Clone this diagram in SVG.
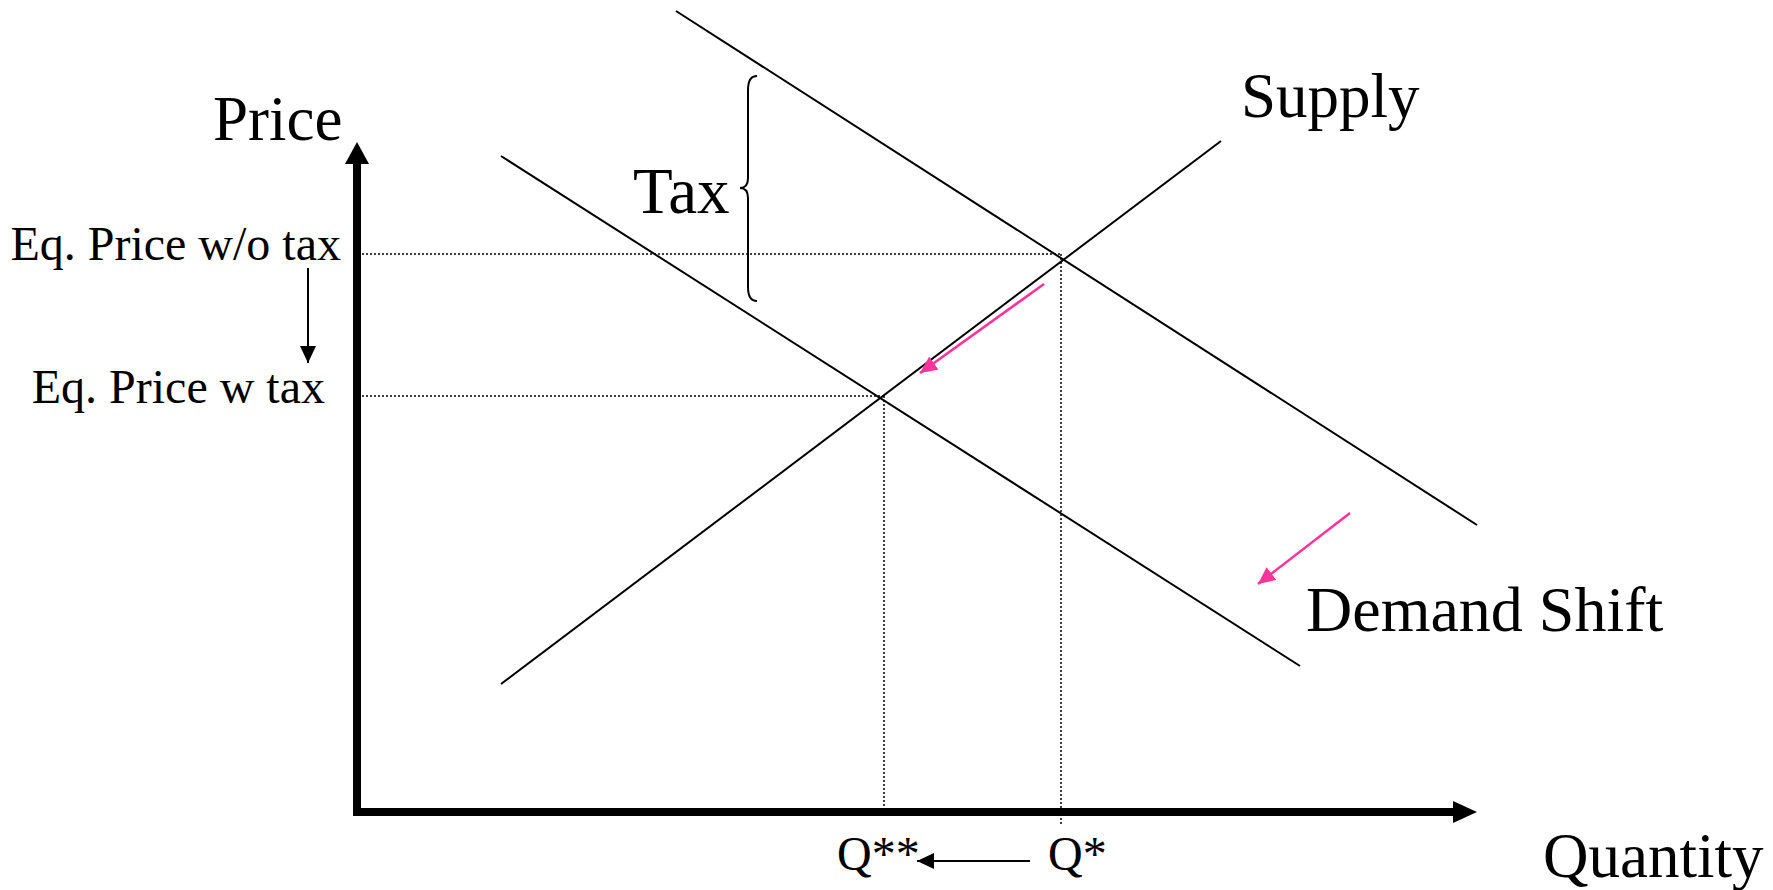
<svg xmlns="http://www.w3.org/2000/svg" width="1773" height="890" viewBox="0 0 1773 890">
<style>
text{font-family:"Liberation Serif","Times New Roman",serif;fill:#000}
.big{font-size:63px}
.mid{font-size:48px}
.curve{stroke:#000;stroke-width:2;fill:none}
.dot{stroke:#000;stroke-width:1.5;stroke-dasharray:2 2;fill:none}
.axis{stroke:#000;stroke-width:8;fill:none}
.pink{stroke:#FF3399;stroke-width:2.5;fill:none}
.small{stroke:#000;stroke-width:2;fill:none}
</style>
<defs>
<marker id="ah-black" markerUnits="userSpaceOnUse" markerWidth="18" markerHeight="16" refX="17" refY="8" orient="auto">
<path d="M0,0 L17,8 L0,16 Z" fill="#000"/>
</marker>
<marker id="ah-pink" markerUnits="userSpaceOnUse" markerWidth="18" markerHeight="16" refX="17" refY="8" orient="auto">
<path d="M0,0 L17,8 L0,16 Z" fill="#FF3399"/>
</marker>
</defs>
<rect width="1773" height="890" fill="#fff"/>

<g id="connectors">
<!-- dotted guides -->
<line class="dot" x1="362" y1="254" x2="1061" y2="254"/>
<line class="dot" x1="362" y1="396" x2="884" y2="396"/>
<line class="dot" x1="1061" y1="254" x2="1061" y2="826"/>
<line class="dot" x1="884" y1="396" x2="884" y2="812"/>
<!-- curves -->
<line id="demand-upper" class="curve" x1="676" y1="11" x2="1477" y2="525"/>
<line id="demand-lower" class="curve" x1="501" y1="156" x2="1300" y2="666"/>
<line id="supply" class="curve" x1="501" y1="684" x2="1221" y2="141"/>
<!-- axes -->
<line class="axis" x1="357" y1="816" x2="357" y2="162"/>
<path d="M345,164 L357,142 L369,164 Z" fill="#000"/>
<line class="axis" x1="353" y1="812" x2="1455" y2="812"/>
<path d="M1453,801 L1477,812 L1453,823 Z" fill="#000"/>
<!-- small arrows -->
<line class="small" x1="308" y1="268" x2="308" y2="363" marker-end="url(#ah-black)"/>
<line class="small" x1="1030" y1="861" x2="917" y2="861" marker-end="url(#ah-black)"/>
<!-- pink shift arrows -->
<line class="pink" x1="1044" y1="284" x2="920" y2="373" marker-end="url(#ah-pink)"/>
<line class="pink" x1="1350" y1="513" x2="1258" y2="584" marker-end="url(#ah-pink)"/>
</g>

<g id="tax-brace">
<path class="curve" d="M757,76 Q748,76 748,90 L748,178 Q748,188 740,188 Q748,188 748,198 L748,287 Q748,301 757,301"/>
<text x="633" y="213" style="font-size:65px">Tax</text>
</g>

<g id="label-price"><text class="big" x="213" y="140">Price</text></g>
<g id="label-quantity"><text class="big" x="1543" y="877">Quantity</text></g>
<g id="label-supply"><text class="big" x="1241" y="117">Supply</text></g>
<g id="label-demand-shift"><text x="1306" y="631" style="font-size:64px">Demand Shift</text></g>
<g id="label-eq-price-wo"><text class="mid" x="341" y="260" text-anchor="end">Eq. Price w/o tax</text></g>
<g id="label-eq-price-w"><text class="mid" x="325" y="403" text-anchor="end">Eq. Price w tax</text></g>
<g id="label-q2"><text class="mid" x="837" y="870">Q**</text></g>
<g id="label-q1"><text class="mid" x="1048" y="870">Q*</text></g>
</svg>
